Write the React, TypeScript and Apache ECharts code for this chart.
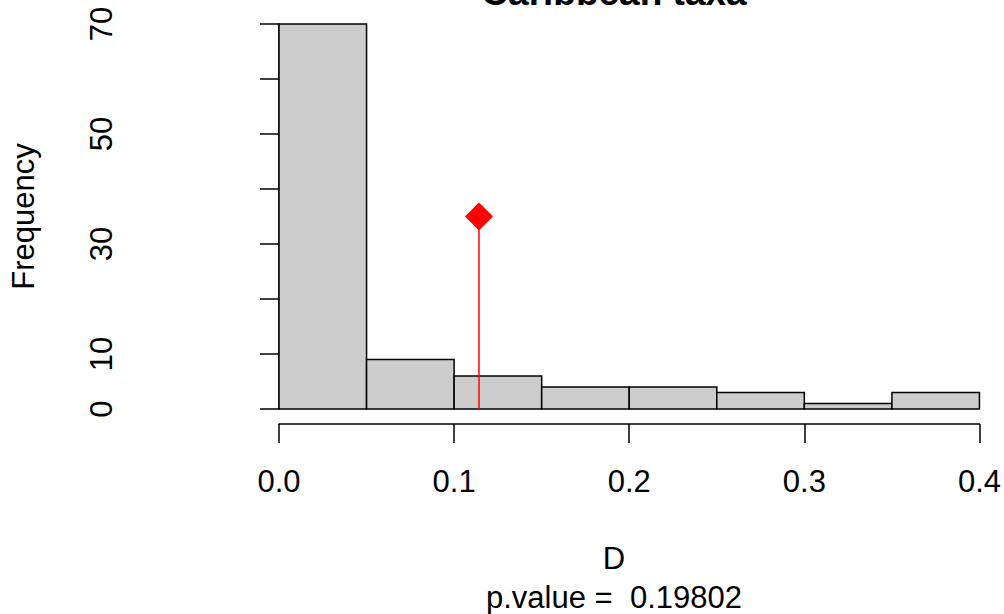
import React, { useEffect, useRef } from "react";
import * as echarts from "echarts";

const binStarts = [0, 0.05, 0.1, 0.15, 0.2, 0.25, 0.3, 0.35];
const binEnds = [0.05, 0.1, 0.15, 0.2, 0.25, 0.3, 0.35, 0.4];
const counts = [70, 9, 6, 4, 4, 3, 1, 3];
const observedD = 0.1142;
const markerHeight = 35;
const yLabelsShown = [0, 10, 30, 50, 70];
const titleText = "Caribbean taxa";
const xTitle = "D";
const subTitle = "p.value =  0.19802";
const yTitle = "Frequency";

const FONT = "'Liberation Sans', Arial, Helvetica, sans-serif";
const FS = 31;

export default function App() {
  const ref = useRef<HTMLDivElement>(null);
  useEffect(() => {
    if (!ref.current) return;
    const chart = echarts.init(ref.current, null, { renderer: "svg" });
    const histData = binStarts.map((s, i) => [s, binEnds[i], counts[i]]);
    chart.setOption({
      animation: false,
      backgroundColor: "#ffffff",
      textStyle: { fontFamily: FONT },
      grid: { left: 277, right: 24, top: 24, bottom: 205, containLabel: false },
      xAxis: {
        type: "value",
        min: 0,
        max: 0.4,
        interval: 0.1,
        offset: 15,
        axisLine: { onZero: false, lineStyle: { color: "#000", width: 1.5 } },
        axisTick: { length: 19, lineStyle: { color: "#000", width: 1.5 } },
        axisLabel: {
          margin: 42,
          fontSize: FS,
          color: "#000",
          fontFamily: FONT,
          formatter: (v: number) => v.toFixed(1),
        },
        splitLine: { show: false },
      },
      yAxis: {
        type: "value",
        min: 0,
        max: 70,
        interval: 10,
        offset: 122,
        name: yTitle,
        nameLocation: "middle",
        nameRotate: 90,
        nameGap: 118,
        nameTextStyle: { fontSize: FS, color: "#000", fontFamily: FONT },
        axisLine: { show: true, lineStyle: { color: "#000", width: 1.5 } },
        axisTick: { show: true, length: 19, lineStyle: { color: "#000", width: 1.5 } },
        axisLabel: {
          rotate: 90,
          margin: 40,
          fontSize: FS,
          color: "#000",
          fontFamily: FONT,
          formatter: (v: number) => (yLabelsShown.indexOf(v) >= 0 ? String(v) : ""),
        },
        splitLine: { show: false },
      },
      series: [
        {
          type: "custom",
          data: histData,
          encode: { x: [0, 1], y: 2 },
          renderItem: (params: any, api: any) => {
            const p0 = api.coord([api.value(0), 0]);
            const p1 = api.coord([api.value(1), api.value(2)]);
            return {
              type: "rect",
              shape: { x: p0[0], y: p1[1], width: p1[0] - p0[0], height: p0[1] - p1[1] },
              style: { fill: "#cccccc", stroke: "#000000", lineWidth: 1.5 },
            };
          },
          z: 1,
        },
        {
          type: "line",
          data: [
            [observedD, 0],
            [observedD, markerHeight],
          ],
          symbol: "none",
          lineStyle: { color: "#ff0000", width: 1.5 },
          z: 3,
        },
        {
          type: "scatter",
          data: [[observedD, markerHeight]],
          symbol: "diamond",
          symbolSize: 28,
          itemStyle: { color: "#ff0000", opacity: 1 },
          z: 4,
        },
      ],
      graphic: [
        {
          type: "text",
          x: 614,
          y: -8,
          style: {
            text: titleText,
            font: `bold 37px ${FONT}`,
            fill: "#000",
            align: "center",
            verticalAlign: "middle",
          },
        },
        {
          type: "text",
          x: 614,
          y: 558,
          style: {
            text: xTitle,
            font: `${FS}px ${FONT}`,
            fill: "#000",
            align: "center",
            verticalAlign: "middle",
          },
        },
        {
          type: "text",
          x: 614,
          y: 597,
          style: {
            text: subTitle,
            font: `${FS}px ${FONT}`,
            fill: "#000",
            align: "center",
            verticalAlign: "middle",
          },
        },
      ],
    });
    return () => chart.dispose();
  }, []);
  return (
    <div
      ref={ref}
      style={{ position: "absolute", left: 0, top: 0, width: 1004, height: 614 }}
    />
  );
}
